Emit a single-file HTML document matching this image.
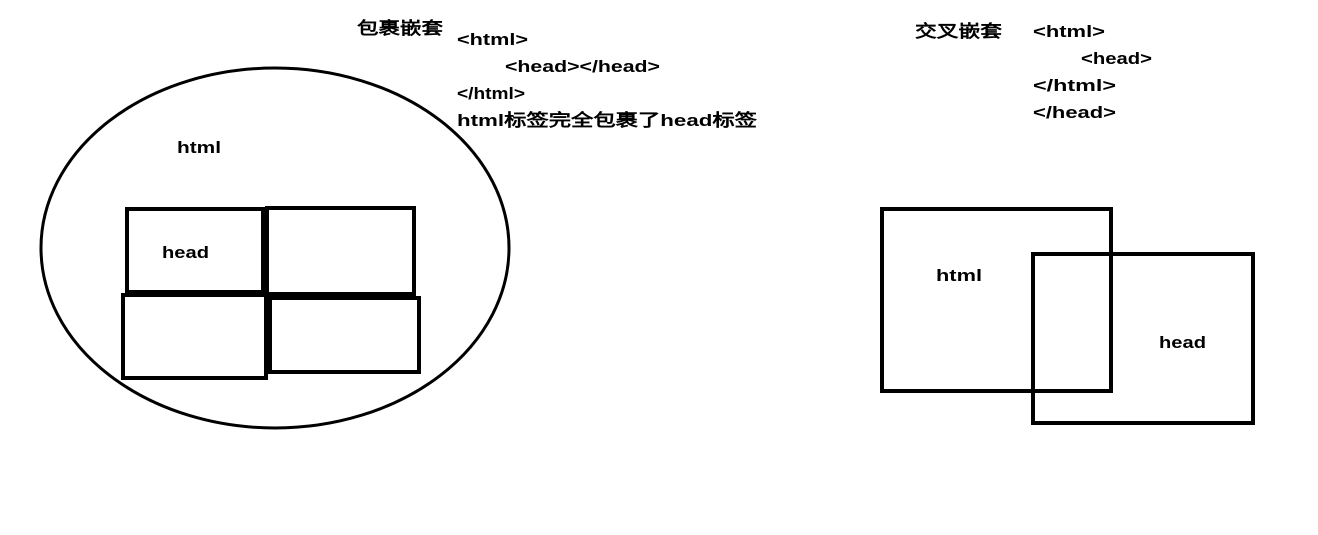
<!DOCTYPE html>
<html><head><meta charset="utf-8"><style>
body{margin:0;background:#fff;}
svg text{font-family:"Liberation Sans","WenQuanYi Zen Hei",sans-serif;font-weight:bold;font-size:17px;fill:#000;}
</style></head><body>
<svg width="1318" height="530" viewBox="0 0 1318 530">
<g fill="none" stroke="#000">
<ellipse cx="275" cy="248" rx="234" ry="180" stroke-width="3"/>
<rect x="127" y="209" width="136" height="83" stroke-width="4"/>
<rect x="267" y="208" width="147" height="86" stroke-width="4"/>
<rect x="123" y="295" width="143" height="83" stroke-width="4"/>
<rect x="270" y="298" width="149" height="74" stroke-width="4"/>
<rect x="882" y="209" width="229" height="182" stroke-width="4"/>
<rect x="1033" y="254" width="220" height="169" stroke-width="4"/>
</g>
<g lengthAdjust="spacingAndGlyphs">
<text x="357" y="34" textLength="86" lengthAdjust="spacingAndGlyphs">包裹嵌套</text>
<text x="457" y="45" textLength="71" lengthAdjust="spacingAndGlyphs">&lt;html&gt;</text>
<text x="505" y="72" textLength="155" lengthAdjust="spacingAndGlyphs">&lt;head&gt;&lt;/head&gt;</text>
<text x="457" y="99" textLength="68" lengthAdjust="spacingAndGlyphs">&lt;/html&gt;</text>
<text x="457" y="126" textLength="300" lengthAdjust="spacingAndGlyphs">html标签完全包裹了head标签</text>
<text x="177" y="153" textLength="44" lengthAdjust="spacingAndGlyphs">html</text>
<text x="162" y="258" textLength="47" lengthAdjust="spacingAndGlyphs">head</text>
<text x="915" y="37" textLength="87" lengthAdjust="spacingAndGlyphs">交叉嵌套</text>
<text x="1033" y="37" textLength="72" lengthAdjust="spacingAndGlyphs">&lt;html&gt;</text>
<text x="1081" y="64" textLength="71" lengthAdjust="spacingAndGlyphs">&lt;head&gt;</text>
<text x="1033" y="91" textLength="83" lengthAdjust="spacingAndGlyphs">&lt;/html&gt;</text>
<text x="1033" y="118" textLength="83" lengthAdjust="spacingAndGlyphs">&lt;/head&gt;</text>
<text x="936" y="281" textLength="46" lengthAdjust="spacingAndGlyphs">html</text>
<text x="1159" y="348" textLength="47" lengthAdjust="spacingAndGlyphs">head</text>
</g>
</svg>
</body></html>
